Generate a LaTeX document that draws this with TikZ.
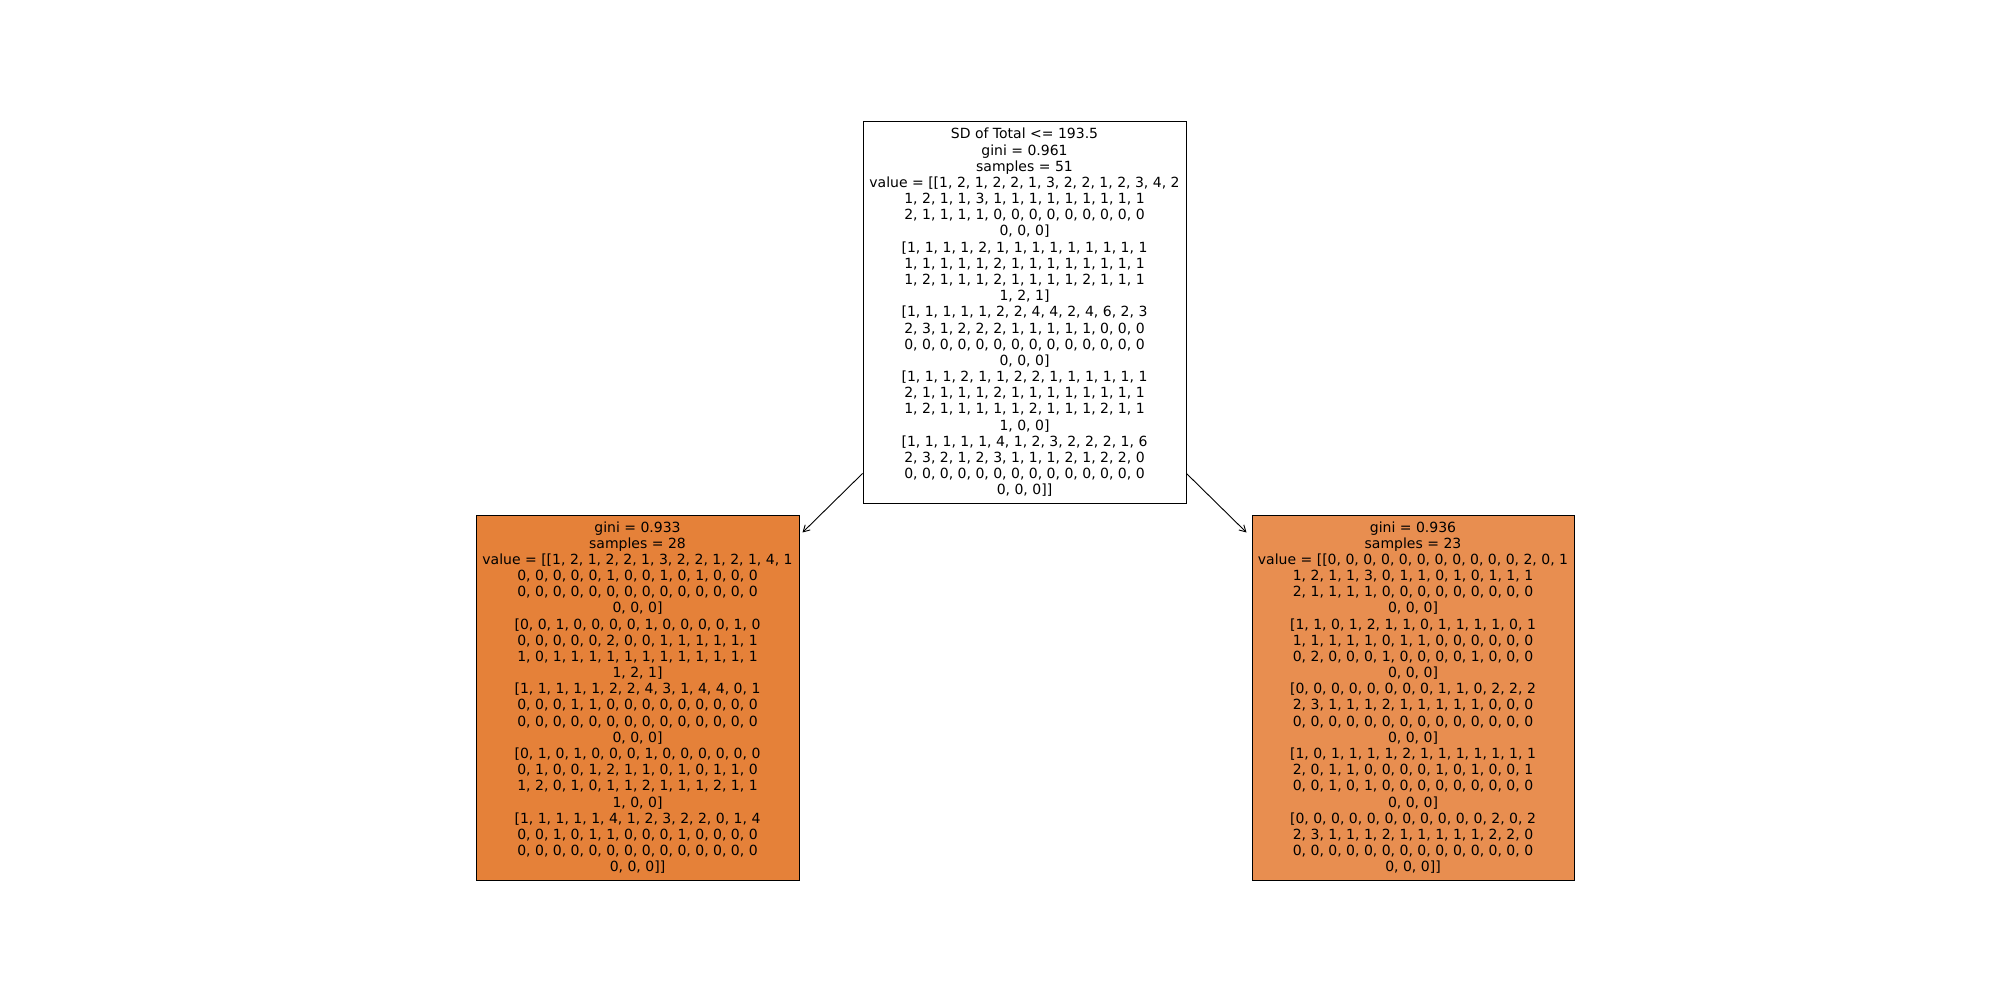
\documentclass[tikz,border=0pt]{standalone}
\usepackage{fontspec}
\setmainfont{DejaVu Sans}
\usetikzlibrary{arrows.meta}
\definecolor{leafL}{RGB}{229,129,57}
\definecolor{leafR}{RGB}{232,142,80}
\tikzset{
  treebox/.style={draw=black, line width=0.5pt, inner sep=0pt, align=center,
    font=\fontsize{7}{8.09}\selectfont, anchor=center},
  edgearrow/.style={-{Straight Barb[length=3.2pt,width=3.6pt]}, line width=0.45pt, shorten >=0pt}
}
\begin{document}
\begin{tikzpicture}[x=0.5pt,y=-0.5pt]
\useasboundingbox (0,0) rectangle (2000,1000);
\node[treebox, minimum width=161.5pt, minimum height=190.5pt] (root) at (1024.5,312.5) {SD of Total <= 193.5\\gini = 0.961\\samples = 51\\value = [[1, 2, 1, 2, 2, 1, 3, 2, 2, 1, 2, 3, 4, 2\\1, 2, 1, 1, 3, 1, 1, 1, 1, 1, 1, 1, 1, 1\\2, 1, 1, 1, 1, 0, 0, 0, 0, 0, 0, 0, 0, 0\\0, 0, 0]\\{}[1, 1, 1, 1, 2, 1, 1, 1, 1, 1, 1, 1, 1, 1\\1, 1, 1, 1, 1, 2, 1, 1, 1, 1, 1, 1, 1, 1\\1, 2, 1, 1, 1, 2, 1, 1, 1, 1, 2, 1, 1, 1\\1, 2, 1]\\{}[1, 1, 1, 1, 1, 2, 2, 4, 4, 2, 4, 6, 2, 3\\2, 3, 1, 2, 2, 2, 1, 1, 1, 1, 1, 0, 0, 0\\0, 0, 0, 0, 0, 0, 0, 0, 0, 0, 0, 0, 0, 0\\0, 0, 0]\\{}[1, 1, 1, 2, 1, 1, 2, 2, 1, 1, 1, 1, 1, 1\\2, 1, 1, 1, 1, 2, 1, 1, 1, 1, 1, 1, 1, 1\\1, 2, 1, 1, 1, 1, 1, 2, 1, 1, 1, 2, 1, 1\\1, 0, 0]\\{}[1, 1, 1, 1, 1, 4, 1, 2, 3, 2, 2, 2, 1, 6\\2, 3, 2, 1, 2, 3, 1, 1, 1, 2, 1, 2, 2, 0\\0, 0, 0, 0, 0, 0, 0, 0, 0, 0, 0, 0, 0, 0\\0, 0, 0]]};
\node[treebox, fill=leafL, minimum width=161.5pt, minimum height=182.5pt] (left) at (637.5,697.5) {gini = 0.933\\samples = 28\\value = [[1, 2, 1, 2, 2, 1, 3, 2, 2, 1, 2, 1, 4, 1\\0, 0, 0, 0, 0, 1, 0, 0, 1, 0, 1, 0, 0, 0\\0, 0, 0, 0, 0, 0, 0, 0, 0, 0, 0, 0, 0, 0\\0, 0, 0]\\{}[0, 0, 1, 0, 0, 0, 0, 1, 0, 0, 0, 0, 1, 0\\0, 0, 0, 0, 0, 2, 0, 0, 1, 1, 1, 1, 1, 1\\1, 0, 1, 1, 1, 1, 1, 1, 1, 1, 1, 1, 1, 1\\1, 2, 1]\\{}[1, 1, 1, 1, 1, 2, 2, 4, 3, 1, 4, 4, 0, 1\\0, 0, 0, 1, 1, 0, 0, 0, 0, 0, 0, 0, 0, 0\\0, 0, 0, 0, 0, 0, 0, 0, 0, 0, 0, 0, 0, 0\\0, 0, 0]\\{}[0, 1, 0, 1, 0, 0, 0, 1, 0, 0, 0, 0, 0, 0\\0, 1, 0, 0, 1, 2, 1, 1, 0, 1, 0, 1, 1, 0\\1, 2, 0, 1, 0, 1, 1, 2, 1, 1, 1, 2, 1, 1\\1, 0, 0]\\{}[1, 1, 1, 1, 1, 4, 1, 2, 3, 2, 2, 0, 1, 4\\0, 0, 1, 0, 1, 1, 0, 0, 0, 1, 0, 0, 0, 0\\0, 0, 0, 0, 0, 0, 0, 0, 0, 0, 0, 0, 0, 0\\0, 0, 0]]};
\node[treebox, fill=leafR, minimum width=161pt, minimum height=182.5pt] (right) at (1413,697.5) {gini = 0.936\\samples = 23\\value = [[0, 0, 0, 0, 0, 0, 0, 0, 0, 0, 0, 2, 0, 1\\1, 2, 1, 1, 3, 0, 1, 1, 0, 1, 0, 1, 1, 1\\2, 1, 1, 1, 1, 0, 0, 0, 0, 0, 0, 0, 0, 0\\0, 0, 0]\\{}[1, 1, 0, 1, 2, 1, 1, 0, 1, 1, 1, 1, 0, 1\\1, 1, 1, 1, 1, 0, 1, 1, 0, 0, 0, 0, 0, 0\\0, 2, 0, 0, 0, 1, 0, 0, 0, 0, 1, 0, 0, 0\\0, 0, 0]\\{}[0, 0, 0, 0, 0, 0, 0, 0, 1, 1, 0, 2, 2, 2\\2, 3, 1, 1, 1, 2, 1, 1, 1, 1, 1, 0, 0, 0\\0, 0, 0, 0, 0, 0, 0, 0, 0, 0, 0, 0, 0, 0\\0, 0, 0]\\{}[1, 0, 1, 1, 1, 1, 2, 1, 1, 1, 1, 1, 1, 1\\2, 0, 1, 1, 0, 0, 0, 0, 1, 0, 1, 0, 0, 1\\0, 0, 1, 0, 1, 0, 0, 0, 0, 0, 0, 0, 0, 0\\0, 0, 0]\\{}[0, 0, 0, 0, 0, 0, 0, 0, 0, 0, 0, 2, 0, 2\\2, 3, 1, 1, 1, 2, 1, 1, 1, 1, 1, 2, 2, 0\\0, 0, 0, 0, 0, 0, 0, 0, 0, 0, 0, 0, 0, 0\\0, 0, 0]]};
\coordinate (rootL) at ([yshift=15pt]root.south west);
\coordinate (rootR) at ([yshift=15pt]root.south east);
\coordinate (leftT) at ([xshift=1.5pt,yshift=-9pt]left.north east);
\coordinate (rightT) at ([xshift=-2.5pt,yshift=-9pt]right.north west);
\draw[edgearrow] (rootL) -- (leftT);
\draw[edgearrow] (rootR) -- (rightT);
\end{tikzpicture}
\end{document}
